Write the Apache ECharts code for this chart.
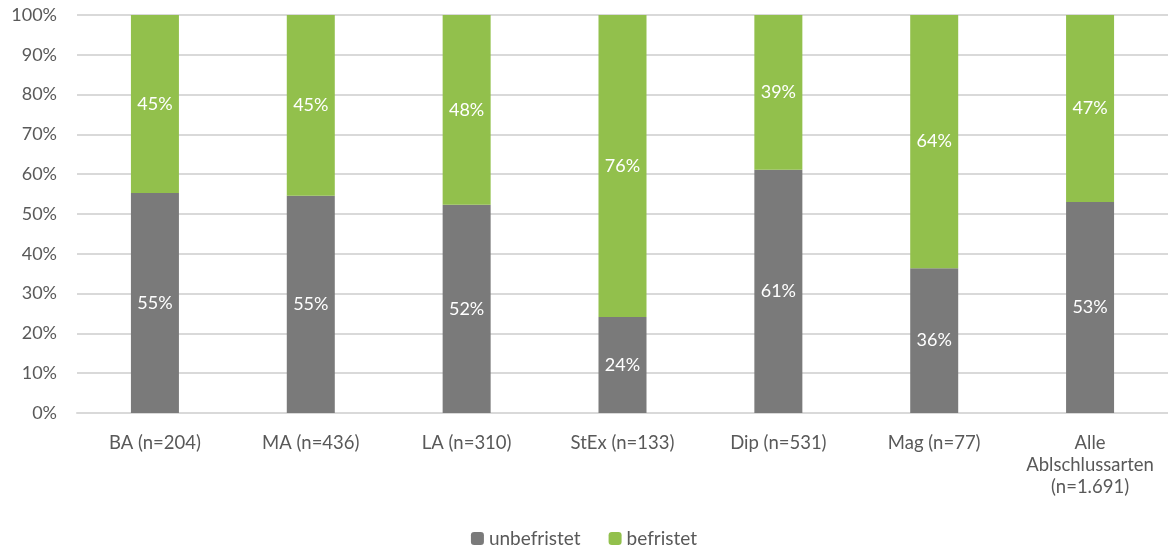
<!DOCTYPE html>
<html><head><meta charset="utf-8">
<script src="https://cdn.jsdelivr.net/npm/echarts@6/dist/echarts.min.js"></script>
<style>html,body{margin:0;padding:0;background:#fff}#c{width:1168px;height:556px}</style>
</head><body><div id="c"></div>
<script>
const categories = ['BA (n=204)', 'MA (n=436)', 'LA (n=310)', 'StEx (n=133)', 'Dip (n=531)', 'Mag (n=77)', 'Alle\nAblschlussarten\n(n=1.691)'];
const unbefristet = [55.3, 54.6, 52.3, 24.1, 61.1, 36.4, 53.0];
const befristet = [44.7, 45.4, 47.7, 75.9, 38.9, 63.6, 47.0];
const yTicks = [0, 10, 20, 30, 40, 50, 60, 70, 80, 90, 100];

const font = 'Lato, "Open Sans", sans-serif';
const chart = echarts.init(document.getElementById('c'));
const lbl = {show: true, position: 'inside', color: '#fff', fontSize: 18, fontFamily: font,
  formatter: p => Math.round(p.value) + '%'};
chart.setOption({
  animation: false,
  grid: {left: 77, top: 15, right: -6, bottom: 143, containLabel: false},
  legend: {bottom: 3, left: 'center', itemWidth: 13, itemHeight: 13, itemGap: 28,
    textStyle: {color: '#595959', fontSize: 19, fontFamily: font},
    data: ['unbefristet', 'befristet']},
  xAxis: {type: 'category', data: categories,
    axisLine: {lineStyle: {color: '#d9d9d9', width: 2}}, axisTick: {show: false},
    axisLabel: {color: '#595959', fontSize: 18.5, fontFamily: font, margin: 19, lineHeight: 22, interval: 0}},
  yAxis: {type: 'value', min: 0, max: 100, interval: 10,
    axisLabel: {color: '#595959', fontSize: 18, fontFamily: font, margin: 20,
      formatter: v => yTicks.includes(v) ? v + '%' : ''},
    splitLine: {lineStyle: {color: '#d9d9d9', width: 2}}, axisLine: {show: false}, axisTick: {show: false}},
  series: [
    {name: 'unbefristet', type: 'bar', stack: 's', data: unbefristet, barWidth: 48,
      itemStyle: {color: '#7a7a7a'}, label: lbl},
    {name: 'befristet', type: 'bar', stack: 's', data: befristet, barWidth: 48,
      itemStyle: {color: '#92c04c'}, label: lbl}
  ]
});
</script></body></html>
